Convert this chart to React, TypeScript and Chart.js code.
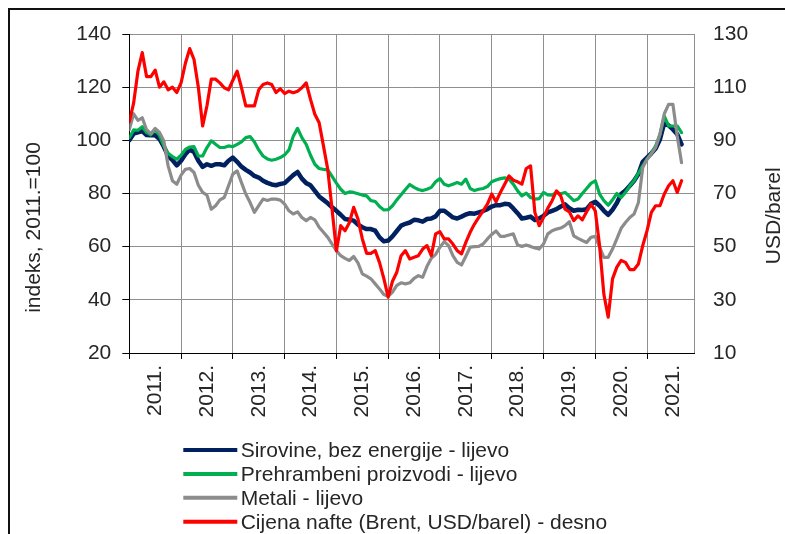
import React, { useEffect, useRef } from 'react';
import { Chart, registerables } from 'chart.js';

Chart.register(...registerables);

// ---------- data ----------
const yearLabels = ['2011.', '2012.', '2013.', '2014.', '2015.', '2016.', '2017.', '2018.', '2019.', '2020.', '2021.'];
// monthly categories Jan 2011 .. Dec 2021
const categories: string[] = [];
yearLabels.forEach((y) => {
  for (let m = 1; m <= 12; m++) categories.push(`${y.slice(0, 4)}-${m < 10 ? '0' + m : m}`);
});

const leftTicks = [20, 40, 60, 80, 100, 120, 140];
const rightTicks = [10, 30, 50, 70, 90, 110, 130];

const leftTitle = 'indeks, 2011.=100';
const rightTitle = 'USD/barel';

const seriesLabels = [
  'Sirovine, bez energije - lijevo',
  'Prehrambeni proizvodi - lijevo',
  'Metali - lijevo',
  'Cijena nafte (Brent, USD/barel) - desno',
];

const sirovine = [
  100, 102.5, 103, 103.5, 102, 101.9, 101.9, 100.5, 97.6, 94.1, 92.6, 90.6,
  92.3, 94.8, 96.6, 95.6, 92.3, 90, 91, 90.4, 91, 91, 90.6, 92.3,
  93.5, 91.9, 90.1, 88.9, 87.9, 86.6, 86, 84.8, 84, 83.4, 83.1, 83.6,
  83.9, 85.4, 86.9, 88.1, 85.6, 83.9, 83.1, 81, 78.9, 77.6, 76.3, 74.8,
  73.5, 72, 70.4, 70.1, 69.8, 68.3, 67.3, 66.6, 66.6, 66, 63.5, 62,
  62.3, 63.9, 65.9, 67.9, 68.6, 69.1, 70.1, 69.9, 69.4, 70.4, 70.6, 71.4,
  73.5, 73.5, 72.3, 71, 70.6, 71.3, 72.1, 72.6, 72.4, 72.9, 73.4, 74.1,
  75.1, 75.6, 75.6, 76.1, 76, 74.4, 72.6, 70.6, 70.9, 71.3, 70, 70.6,
  71.6, 72.9, 73.5, 74.1, 75.1, 75.9, 74.5, 73.5, 73.9, 73.8, 74.1, 76.1,
  76.9, 75.4, 73.5, 72, 73.9, 76.4, 79.8, 81.1, 82.9, 84.8, 87.3, 91.9,
  93.5, 95.1, 96.9, 100.4, 106.6, 105.6, 104.1, 102.3, 98.5,
];

const prehrambeni = [
  101, 103.9, 103.8, 105.1, 102.9, 102.1, 103.9, 101.9, 97.9, 95.1, 93.9, 92.9,
  94.4, 96.6, 97.5, 97.6, 94.1, 94.1, 97.3, 99.8, 98.5, 97.3, 97.3, 97.9,
  97.6, 98.5, 99.4, 101, 101.4, 99.4, 96.4, 94.1, 93, 92.5, 92.9, 93.5,
  94.5, 96.4, 101.5, 104.5, 101, 98.5, 94.4, 91, 89.4, 89.1, 88.9, 86.4,
  83.9, 81.6, 80, 80.6, 80.4, 79.9, 79.4, 79.1, 77.3, 77, 75.1, 73.8,
  73.9, 75.4, 77.6, 79.5, 81.5, 83.4, 82.3, 81.5, 81.1, 81.6, 82.3, 84.4,
  85.6, 83.5, 82.9, 83.5, 84.1, 83.5, 85.4, 81.9, 81.1, 81.6, 81.9, 82.6,
  84.4, 85.1, 85.6, 85.9, 85.4, 83.5, 81, 79.1, 80.1, 78.5, 77.9, 78.1,
  80.4, 79.5, 79.4, 80.4, 79.9, 80.4, 78.9, 77.3, 77.9, 80, 81.9, 83.8,
  84.8, 79.8, 77.3, 75.6, 77.6, 80, 78.5, 80.4, 82.9, 84.8, 87.6, 90.4,
  92.9, 95.1, 97.9, 102.3, 109.1, 105.4, 105.4, 105.4, 102.9,
];

const metali = [
  104, 110, 107.5, 108.5, 104, 102.5, 104.5, 103, 99.8, 90.4, 84.8, 83.5,
  86.9, 89.1, 89.4, 87.9, 83.1, 80.4, 79.4, 74.1, 75.4, 77.6, 78.5, 82.9,
  87.3, 88.5, 84.1, 79.8, 76.6, 72.9, 75.4, 77.9, 77.4, 77.9, 77.9, 77.5,
  76, 73.5, 72.3, 73.1, 71, 69.8, 71, 70.1, 67.3, 65.4, 63.5, 61,
  58.5, 56.6, 55.6, 54.8, 56.3, 53.9, 49.8, 48.9, 47.9, 46, 44.1, 42,
  41.3, 42.9, 45.4, 46.4, 46, 46.4, 48.1, 49.1, 48.5, 52.6, 55.6, 57.1,
  59.8, 61.9, 60.4, 56.6, 54.1, 53.1, 56.4, 59.8, 60, 60.1, 61, 62.9,
  64.6, 65.9, 63.9, 63.9, 64.4, 64.8, 60.6, 60.1, 60.6, 60.1, 59.5, 59.1,
  61, 64.8, 66, 66.6, 67, 67.9, 69.4, 64.1, 63.1, 62.3, 61.6, 63.5,
  63.9, 59.8, 56, 56, 59.1, 62.9, 66.9, 69.1, 71, 72.3, 76.6, 89.8,
  92.9, 95, 97.3, 102.3, 110, 113.5, 113.5, 101.6, 91.6,
];

const brent = [
  97, 104, 116, 123, 114, 114, 116.4, 110, 112, 109, 110, 108,
  111.6, 119, 124.5, 120.4, 110, 95.4, 103, 113, 113, 111.6, 109.8, 109,
  112.6, 116, 109.8, 103, 103, 103, 109, 111, 111.6, 111, 108, 109.4,
  107.6, 108.5, 107.9, 108.5, 109.8, 111.6, 105.4, 99.8, 96.6, 87.9, 79, 64,
  48.4, 57.9, 56, 59, 64.8, 60.4, 53, 47.5, 47.5, 48.5, 44, 38,
  31, 37, 40.4, 46.6, 48.5, 45.4, 46, 46.6, 49.1, 50.4, 46.6, 54.8,
  55.6, 52.9, 52.9, 51, 48.5, 47.3, 51.6, 55.4, 58.5, 61, 63.5, 66,
  69.8, 66.9, 70.4, 73.5, 76.6, 75, 74.4, 73.5, 79.4, 80.4, 62.9, 57.9,
  61, 64.5, 67.3, 71, 69.1, 64.1, 63.1, 59.8, 61.6, 60.1, 63.1, 66,
  63.5, 50.4, 32, 23.5, 37.9, 42.3, 44.8, 44.1, 41.4, 41.4, 43.5, 50.4,
  56, 62.9, 65.4, 65.4, 69.8, 72.9, 74.8, 70.4, 74.8,
];

const FONT = "'Liberation Sans', Arial, sans-serif";
const TEXT = '#262626';
const GRID = '#8f8f8f';

const annotate = {
  id: 'annotate',
  afterDraw(chart: any) {
    const { ctx, chartArea } = chart;
    ctx.save();
    ctx.fillStyle = TEXT;
    ctx.font = `21px ${FONT}`;
    // left axis title
    ctx.save();
    ctx.translate(chartArea.left - 89.3, chartArea.top + 193.5);
    ctx.rotate(-Math.PI / 2);
    ctx.textAlign = 'center';
    ctx.textBaseline = 'alphabetic';
    ctx.fillText(leftTitle, 0, 0);
    ctx.restore();
    // right axis title
    ctx.save();
    ctx.translate(chartArea.right + 85.5, chartArea.top + 181.8);
    ctx.rotate(-Math.PI / 2);
    ctx.textAlign = 'center';
    ctx.textBaseline = 'alphabetic';
    ctx.fillText(rightTitle, 0, 0);
    ctx.restore();
    // legend (one item per line)
    const x0 = chartArea.left + 54;
    const y0 = chartArea.bottom + 97;
    chart.data.datasets.forEach((ds: any, k: number) => {
      const y = y0 + k * 23.9;
      ctx.strokeStyle = ds.borderColor;
      ctx.lineWidth = 4;
      ctx.beginPath();
      ctx.moveTo(x0, y);
      ctx.lineTo(x0 + 54, y);
      ctx.stroke();
      ctx.textAlign = 'left';
      ctx.textBaseline = 'alphabetic';
      ctx.fillText(ds.label, x0 + 57.4, y + 6.8);
    });
    ctx.restore();
  },
};

export default function App() {
  const canvasRef = useRef<HTMLCanvasElement | null>(null);

  useEffect(() => {
    const canvas = canvasRef.current;
    if (!canvas) return;
    const lastTick = yearLabels.length; // index of the closing tick
    const chart = new Chart(canvas, {
      type: 'line',
      data: {
        labels: categories,
        datasets: [
          { label: seriesLabels[0], data: sirovine, borderColor: '#002060', borderWidth: 4.5, yAxisID: 'y', order: 4 },
          { label: seriesLabels[1], data: prehrambeni, borderColor: '#00b050', borderWidth: 3.2, yAxisID: 'y', order: 3 },
          { label: seriesLabels[2], data: metali, borderColor: '#8c8c8c', borderWidth: 3.2, yAxisID: 'y', order: 2 },
          { label: seriesLabels[3], data: brent, borderColor: '#ff0000', borderWidth: 3.2, yAxisID: 'y2', order: 1 },
        ],
      },
      options: {
        animation: false,
        responsive: false,
        events: [],
        layout: { padding: { top: 24, bottom: 101, left: 0, right: 0 } },
        elements: { point: { radius: 0 }, line: { tension: 0, borderCapStyle: 'round', borderJoinStyle: 'round' } },
        plugins: { legend: { display: false }, tooltip: { enabled: false } },
        scales: {
          x: {
            type: 'category',
            offset: false,
            min: 0,
            max: categories.length - 1,
            grid: {
              color: GRID,
              lineWidth: 1,
              tickLength: 6,
              tickColor: (c: any) => (c.index === lastTick ? 'rgba(0,0,0,0)' : '#000'),
            },
            border: { color: '#000', width: 1 },
            ticks: {
              autoSkip: false,
              minRotation: 90,
              maxRotation: 90,
              padding: 6,
              labelOffset: 25.9,
              color: TEXT,
              font: { family: FONT, size: 21 },
              callback: (v: any) => {
                const n = Number(v);
                return n % 12 === 0 && n / 12 < yearLabels.length ? yearLabels[n / 12] : '';
              },
            },
            afterBuildTicks: (s: any) => {
              const t = yearLabels.map((_, k) => ({ value: k * 12 }));
              t.push({ value: categories.length - 1 });
              s.ticks = t;
            },
            afterFit: (s: any) => {
              s.height = 80;
            },
          },
          y: {
            position: 'left',
            min: leftTicks[0],
            max: leftTicks[leftTicks.length - 1],
            grid: { color: GRID, lineWidth: 1, tickLength: 7, tickColor: '#000' },
            border: { color: '#000', width: 1 },
            ticks: { stepSize: 20, padding: 11, color: TEXT, font: { family: FONT, size: 21 } },
            afterFit: (s: any) => {
              s.width = 119.3;
            },
          },
          y2: {
            position: 'right',
            min: rightTicks[0],
            max: rightTicks[rightTicks.length - 1],
            grid: { drawOnChartArea: false, drawTicks: true, tickLength: 8.6, tickColor: 'rgba(0,0,0,0)' },
            border: { display: false },
            ticks: { stepSize: 20, padding: 10, color: TEXT, font: { family: FONT, size: 21 } },
            afterFit: (s: any) => {
              s.width = 90.5;
            },
          },
        },
      },
      plugins: [annotate],
    });
    return () => chart.destroy();
  }, []);

  return (
    <div
      style={{
        position: 'fixed',
        left: 8,
        top: 8,
        width: 777,
        height: 526,
        boxSizing: 'border-box',
        borderTop: '2px solid #111',
        borderLeft: '2px solid #111',
        background: '#fff',
      }}
    >
      <canvas ref={canvasRef} width={775} height={524} style={{ display: 'block' }} />
    </div>
  );
}
